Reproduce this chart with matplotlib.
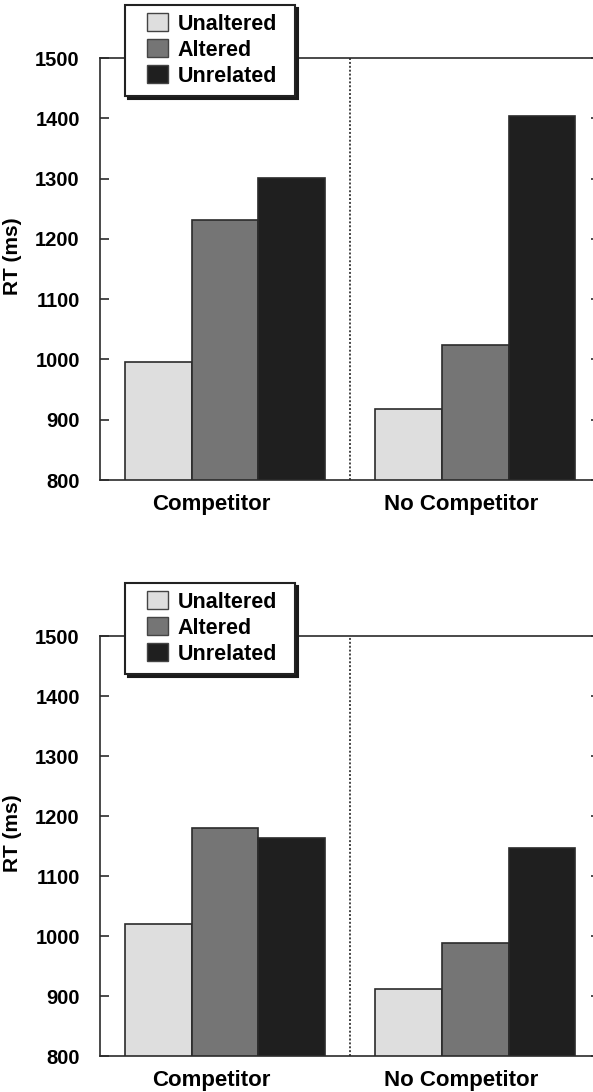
import matplotlib
matplotlib.use("Agg")
import matplotlib.pyplot as plt
from matplotlib.patches import Rectangle, Patch
from matplotlib.legend_handler import HandlerPatch
from matplotlib.transforms import ScaledTranslation
import numpy as np

plt.rcParams['font.family'] = ['Liberation Sans', 'DejaVu Sans']
plt.rcParams['font.weight'] = 'bold'

# Data
groups = ["Competitor", "No Competitor"]
conditions = ["Unaltered", "Altered", "Unrelated"]
colors = ["#dedede", "#757575", "#1f1f1f"]

# Experiment A (top panel): mean RT in ms, per condition, per group
top_unaltered = [995, 918]
top_altered = [1232, 1024]
top_unrelated = [1301, 1403]

# Experiment B (bottom panel)
bot_unaltered = [1020, 911]
bot_altered = [1180, 989]
bot_unrelated = [1164, 1146]

yticks = [800, 900, 1000, 1100, 1200, 1300, 1400, 1500]

W, H = 593, 1092
fig = plt.figure(figsize=(W / 100, H / 100), dpi=100)

EDGE = "#2b2b2b"


def swatch(legend, orig_handle, xdescent, ydescent, width, height, fontsize):
    # colour box inset from the left of the handle area
    w, h = 15.6, 13.2
    off = width - w
    return Rectangle((-xdescent + off, -ydescent + (height - h) / 2 + 0.5), w, h)


def panel(rect, series, legend_top):
    ax = fig.add_axes(rect)
    x = np.arange(len(groups))
    bw = 0.8 / len(conditions)
    for i, (vals, col) in enumerate(zip(series, colors)):
        ax.bar(x + (i - 1) * bw, vals, width=bw, bottom=0, color=col,
               edgecolor=EDGE, linewidth=1.2, zorder=2)
    ax.set_xlim(-0.5, 1.5)
    ax.set_ylim(800, 1500)
    ax.set_yticks(yticks)
    ax.set_yticklabels([str(t) for t in yticks], fontsize=14.5, fontweight='bold')
    ax.tick_params(axis='y', which='both', direction='in', length=6.5, width=1.2,
                   color=EDGE, pad=14.5, left=True, right=True)
    ax.set_xticks(x)
    ax.set_xticklabels(groups, fontsize=16, fontweight='bold')
    ax.tick_params(axis='x', length=0, pad=10)
    shift = ScaledTranslation(-0.14, 0, fig.dpi_scale_trans)
    for lab in ax.get_xticklabels():
        lab.set_transform(lab.get_transform() + shift)
    for side in ["left", "right", "top", "bottom"]:
        ax.spines[side].set_color(EDGE)
        ax.spines[side].set_linewidth(1.2)
    ax.axvline(0.5, color="#444444", linewidth=1.4, linestyle=(0, (1, 1)), zorder=1)
    ax.set_ylabel("RT (ms)", fontsize=15, fontweight='bold')
    ax.yaxis.set_label_coords(-0.156, 0.53)

    handles = [Patch(facecolor=c, edgecolor="#444444", linewidth=1.0) for c in colors]
    x0 = 125 / W
    wd = 170 / W
    top = 1 - legend_top / H
    leg = ax.legend(handles, conditions, loc="upper left",
                    bbox_to_anchor=(x0, top - 0.1, wd, 0.1),
                    bbox_transform=fig.transFigure, mode="expand",
                    borderaxespad=0, borderpad=0.42, fontsize=15.5,
                    handlelength=1.6, handleheight=0.7, handletextpad=0.42,
                    labelspacing=0.23, fancybox=False, framealpha=1,
                    edgecolor="#222222",
                    shadow={'color': '#1a1a1a', 'alpha': 1},
                    handler_map={Patch: HandlerPatch(patch_func=swatch)})
    leg.get_frame().set_linewidth(1.5)
    for t in leg.get_texts():
        t.set_fontweight('bold')
    return ax


panel([100 / W, 1 - 480 / H, 500.5 / W, 422 / H],
      [top_unaltered, top_altered, top_unrelated], 5)
panel([100 / W, 1 - 1056 / H, 500.5 / W, 420 / H],
      [bot_unaltered, bot_altered, bot_unrelated], 583)

fig.savefig("out.png", dpi=100)
